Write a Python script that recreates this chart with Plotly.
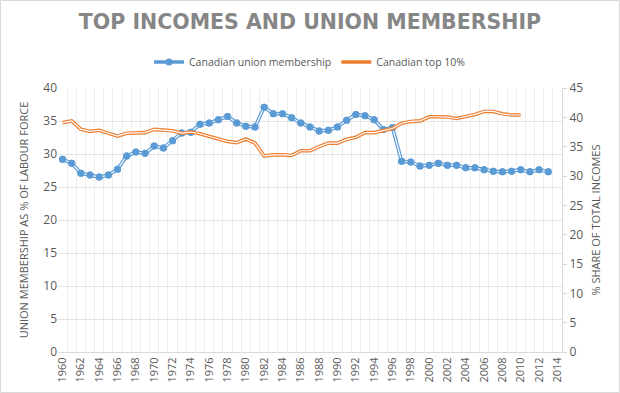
import plotly.graph_objects as go

union_years = list(range(1960, 2014))
union_values = [29.2, 28.6, 27.1, 26.8, 26.5, 26.8, 27.7, 29.7, 30.3, 30.1,
                31.2, 30.9, 32.0, 33.2, 33.3, 34.5, 34.7, 35.2, 35.7, 34.7,
                34.2, 34.1, 37.1, 36.1, 36.1, 35.5, 34.7, 34.1, 33.5, 33.6,
                34.1, 35.1, 36.0, 35.8, 35.2, 33.7, 34.0, 28.9, 28.8, 28.2,
                28.3, 28.6, 28.3, 28.3, 27.9, 27.9, 27.6, 27.4, 27.3, 27.4,
                27.6, 27.3, 27.6, 27.3]

top_years = list(range(1960, 2011))
top_values = [39.1, 39.4, 37.95, 37.6, 37.8, 37.3, 36.8, 37.3, 37.4, 37.4,
              37.95, 37.8, 37.7, 37.3, 37.5, 37.2, 36.7, 36.3, 35.9, 35.7,
              36.3, 35.6, 33.4, 33.6, 33.6, 33.5, 34.3, 34.3, 35.0, 35.6,
              35.6, 36.25, 36.6, 37.4, 37.4, 37.7, 38.1, 39.0, 39.3, 39.4,
              40.1, 40.1, 40.05, 39.8, 40.1, 40.5, 41.0, 41.0, 40.6, 40.4,
              40.4]

tick_years = list(range(1960, 2015, 2))
tick_labels = [str(y) for y in tick_years]

BLUE = "#5b9bd5"
ORANGE = "#ed7d31"
TXT = "#595959"
FONT = "Open Sans"

fig = go.Figure()

# Union membership: double line + markers
fig.add_trace(go.Scatter(x=union_years, y=union_values, name="Canadian union membership",
                         mode="lines+markers", line=dict(color=BLUE, width=3.6),
                         marker=dict(color=BLUE, size=7), yaxis="y"))
fig.add_trace(go.Scatter(x=union_years, y=union_values, mode="lines", showlegend=False,
                         line=dict(color="white", width=1.2), hoverinfo="skip", yaxis="y"))
fig.add_trace(go.Scatter(x=union_years, y=union_values, mode="markers", showlegend=False,
                         marker=dict(color=BLUE, size=7), hoverinfo="skip", yaxis="y"))

# Top 10% share: double line
fig.add_trace(go.Scatter(x=top_years, y=top_values, name="Canadian top 10%",
                         mode="lines", line=dict(color=ORANGE, width=3.6), yaxis="y2"))
fig.add_trace(go.Scatter(x=top_years, y=top_values, mode="lines", showlegend=False,
                         line=dict(color="white", width=1.2), hoverinfo="skip", yaxis="y2"))

L, R, T, B = 58, 58, 88, 41
W, H = 620, 393
pw, ph = W - L - R, H - T - B

fig.update_layout(
    width=W, height=H,
    margin=dict(l=L, r=R, t=T, b=B, autoexpand=False),
    paper_bgcolor="white", plot_bgcolor="white",
    font=dict(family=FONT, color=TXT, size=11),
    title=dict(text="<b>TOP INCOMES AND UNION MEMBERSHIP</b>", x=0.5, xanchor="center",
               y=1 - 22 / H, yanchor="middle",
               font=dict(family="DejaVu Sans", size=20.5, color="#868686")),
    legend=dict(orientation="h", x=0.5, xanchor="center", y=1 + (T - 62) / ph, yanchor="middle",
                font=dict(size=10.5, color=TXT), itemwidth=30, bgcolor="rgba(0,0,0,0)"),
    showlegend=True,
    xaxis=dict(range=[1959.5, 2014.5], tickvals=tick_years, ticktext=tick_labels,
               tickangle=-90, showgrid=False, zeroline=False, ticks="",
               showline=True, linecolor="#d9d9d9", linewidth=1, automargin=False,
               tickfont=dict(size=11, color=TXT),
               minor=dict(tick0=1959.5, dtick=1, showgrid=True, gridcolor="#eeeeee",
                          gridwidth=1, ticks="")),
    yaxis=dict(range=[0, 40], dtick=5, showgrid=True, gridcolor="#e4e4e4", zeroline=False,
               tickfont=dict(size=12, color=TXT), ticks="", showline=False, automargin=False,
               title=dict(text="UNION MEMBERSHIP AS % OF LABOUR FORCE", standoff=12,
                          font=dict(size=11, color=TXT))),
    yaxis2=dict(range=[0, 45], dtick=5, overlaying="y", side="right", showgrid=False,
                zeroline=False, tickfont=dict(size=12, color=TXT), ticks="outside",
                ticklen=4, tickcolor="#d9d9d9", showline=True, linecolor="#d9d9d9",
                automargin=False,
                title=dict(text="% SHARE OF TOTAL INCOMES", standoff=10,
                           font=dict(size=11, color=TXT))),
    shapes=[dict(type="rect", xref="paper", yref="paper",
                 x0=-(L - 0.5) / pw, x1=(W - L - 0.5) / pw,
                 y0=-(B - 0.5) / ph, y1=(H - B - 0.5) / ph,
                 line=dict(color="#d9d9d9", width=1), layer="below")],
)

fig.write_html("out.html", config={"displayModeBar": False},
               post_script="document.body.style.margin='0';document.body.style.overflow='hidden';")
